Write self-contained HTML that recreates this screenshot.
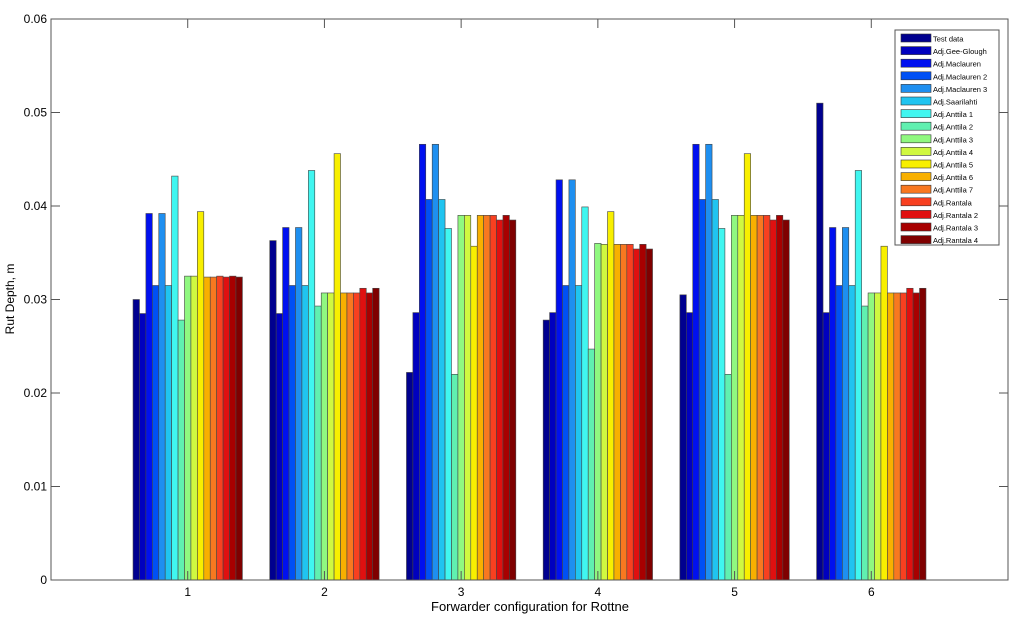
<!DOCTYPE html>
<html><head><meta charset="utf-8"><style>
body{margin:0;background:#fff;}
text{font-family:"Liberation Sans",Arial,sans-serif;}
</style></head><body>
<svg id="chart" width="1023" height="618" xmlns="http://www.w3.org/2000/svg">
<rect width="1023" height="618" fill="#fff"/>
<g id="bars"></g>
<g id="axes"></g>
<g id="legend"></g>
<text x="530" y="611" font-size="13" text-anchor="middle">Forwarder configuration for Rottne</text>
<text transform="translate(14,299) rotate(-90)" font-size="12" text-anchor="middle">Rut Depth, m</text>
</svg>
<script>
const categories = ["1","2","3","4","5","6"];
const seriesNames = ["Test data","Adj.Gee-Glough","Adj.Maclauren","Adj.Maclauren 2","Adj.Maclauren 3","Adj.Saarilahti","Adj.Anttila 1","Adj.Anttila 2","Adj.Anttila 3","Adj.Anttila 4","Adj.Anttila 5","Adj.Anttila 6","Adj.Anttila 7","Adj.Rantala","Adj.Rantala 2","Adj.Rantala 3","Adj.Rantala 4"];
const group1 = [0.0300,0.0285,0.0392,0.0315,0.0392,0.0315,0.0432,0.0278,0.0325,0.0325,0.0394,0.0324,0.0324,0.0325,0.0324,0.0325,0.0324];
const group2 = [0.0363,0.0285,0.0377,0.0315,0.0377,0.0315,0.0438,0.0293,0.0307,0.0307,0.0456,0.0307,0.0307,0.0307,0.0312,0.0307,0.0312];
const group3 = [0.0222,0.0286,0.0466,0.0407,0.0466,0.0407,0.0376,0.0220,0.0390,0.0390,0.0357,0.0390,0.0390,0.0390,0.0385,0.0390,0.0385];
const group4 = [0.0278,0.0286,0.0428,0.0315,0.0428,0.0315,0.0399,0.0247,0.0360,0.0359,0.0394,0.0359,0.0359,0.0359,0.0354,0.0359,0.0354];
const group5 = [0.0305,0.0286,0.0466,0.0407,0.0466,0.0407,0.0376,0.0220,0.0390,0.0390,0.0456,0.0390,0.0390,0.0390,0.0385,0.0390,0.0385];
const group6 = [0.0510,0.0286,0.0377,0.0315,0.0377,0.0315,0.0438,0.0293,0.0307,0.0307,0.0357,0.0307,0.0307,0.0307,0.0312,0.0307,0.0312];
const groups = [group1,group2,group3,group4,group5,group6];
const yTicks = [0,0.01,0.02,0.03,0.04,0.05,0.06];
const yTickLabels = ["0","0.01","0.02","0.03","0.04","0.05","0.06"];
const colors = ["#00008f","#0000bf","#0010ef","#0050f5","#1e8ff0","#20c4f0","#40f6f0","#60f0b0","#90f880","#d0f840","#f8ef00","#f8b000","#f87820","#f84020","#e01010","#a80000","#7f0000"];

const NS="http://www.w3.org/2000/svg";
const L=51,R=1008,T=19,B=580;
const x = v => L + (v/7)*(R-L);
const y = v => B - (v/0.06)*(B-T);
function mk(tag,attrs,parent){const e=document.createElementNS(NS,tag);for(const k in attrs)e.setAttribute(k,attrs[k]);parent.appendChild(e);return e;}

const gb=document.getElementById('bars');
const groupW=0.8, bw=groupW/seriesNames.length;
groups.forEach((vals,gi)=>{
  vals.forEach((v,si)=>{
    const x0=x(gi+1-groupW/2+si*bw);
    const r=mk('rect',{x:x0,y:y(v),width:x(bw)-x(0),height:y(0)-y(v),fill:colors[si],stroke:'#444','stroke-width':0.6},gb);
    
    
  });
});

const ga=document.getElementById('axes');
const box=mk('rect',{x:L,y:T,width:R-L,height:B-T,fill:'none',stroke:'#555','stroke-width':1},ga);


yTicks.forEach((t,i)=>{
  mk('line',{x1:L,x2:L+9,y1:y(t),y2:y(t),stroke:'#555'},ga);
  mk('line',{x1:R,x2:R-9,y1:y(t),y2:y(t),stroke:'#555'},ga);
  const tx=mk('text',{x:L-4,y:y(t)+4,'font-size':12,'text-anchor':'end'},ga);
  tx.textContent=yTickLabels[i];
  
  
});
categories.forEach((c,i)=>{
  mk('line',{x1:x(i+1),x2:x(i+1),y1:B,y2:B-9,stroke:'#555'},ga);
  mk('line',{x1:x(i+1),x2:x(i+1),y1:T,y2:T+9,stroke:'#555'},ga);
  const tx=mk('text',{x:x(i+1),y:B+16,'font-size':12,'text-anchor':'middle'},ga);
  tx.textContent=c;
  
  
});

const gl=document.getElementById('legend');
const lb=mk('rect',{x:895,y:30,width:104,height:215,fill:'#fff',stroke:'#555'},gl);


seriesNames.forEach((n,i)=>{
  const yy=34+i*12.6;
  const sw=mk('rect',{x:901,y:yy,width:30,height:8,fill:colors[i],stroke:'#333','stroke-width':0.6},gl);
  
  
  const tx=mk('text',{x:933,y:yy+7.5,'font-size':7.5},gl);
  tx.textContent=n;
  
  
});
</script>
</body></html>
